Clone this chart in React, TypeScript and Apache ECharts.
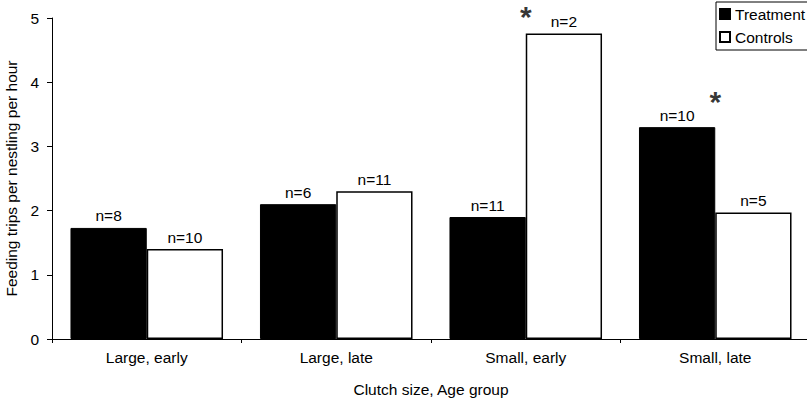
import React, { useEffect, useRef } from "react";
import * as echarts from "echarts";

const categories = ["Large, early", "Large, late", "Small, early", "Small, late"];
const treatmentValues = [1.73, 2.1, 1.9, 3.3];
const controlValues = [1.4, 2.3, 4.76, 1.97];
const treatmentN = ["n=8", "n=6", "n=11", "n=10"];
const controlN = ["n=10", "n=11", "n=2", "n=5"];
const asteriskValues = [null, null, 5.03, 3.7];
const yTicks = [0, 1, 2, 3, 4, 5];

const FONT = "Liberation Sans, Arial, sans-serif";
const FS = 15.5;

export default function App() {
  const ref = useRef<HTMLDivElement>(null);
  useEffect(() => {
    document.body.style.margin = "0";
    const chart = echarts.init(ref.current!, null, { renderer: "svg" });
    chart.setOption({
      animation: false,
      backgroundColor: "#fff",
      textStyle: { fontFamily: FONT, color: "#000" },
      grid: { left: 52, right: -3, top: 18, bottom: 60, containLabel: false, outerBoundsMode: "none" },
      legend: {
        orient: "vertical",
        left: 716,
        top: 2,
        itemWidth: 10,
        itemHeight: 10,
        itemGap: 7,
        padding: [4, 20, 5, 3],
        borderColor: "#000",
        borderWidth: 1,
        icon: "rect",
        textStyle: { fontFamily: FONT, fontSize: 15.5, color: "#000" },
        data: ["Treatment", "Controls"],
      },
      xAxis: {
        type: "category",
        data: categories,
        name: "Clutch size, Age group",
        nameLocation: "middle",
        nameGap: 42,
        nameTextStyle: { fontFamily: FONT, fontSize: FS, color: "#000" },
        axisLine: { lineStyle: { color: "#000", width: 1 } },
        axisTick: { show: true, alignWithLabel: false, length: 4, lineStyle: { color: "#000" } },
        axisLabel: { fontFamily: FONT, fontSize: FS, color: "#000", margin: 10 },
        splitLine: { show: false },
      },
      yAxis: {
        type: "value",
        min: yTicks[0],
        max: yTicks[yTicks.length - 1],
        interval: 1,
        name: "Feeding trips per nestling per hour",
        nameLocation: "middle",
        nameGap: 31,
        nameTextStyle: { fontFamily: FONT, fontSize: FS, color: "#000" },
        axisLine: { show: true, lineStyle: { color: "#000", width: 1 } },
        axisTick: { show: true, length: 5, lineStyle: { color: "#000" } },
        axisLabel: { fontFamily: FONT, fontSize: FS, color: "#000", margin: 13 },
        splitLine: { show: false },
      },
      series: [
        {
          name: "Treatment",
          type: "bar",
          data: treatmentValues.map((v, i) => ({ value: v, label: { formatter: treatmentN[i] } })),
          barGap: "0%",
          barCategoryGap: "19.5%",
          itemStyle: { color: "#000", borderColor: "#000", borderWidth: 1 },
          label: { show: true, position: "top", distance: 4, fontFamily: FONT, fontSize: FS, color: "#000" },
        },
        {
          name: "Controls",
          type: "bar",
          data: controlValues.map((v, i) => ({ value: v, label: { formatter: controlN[i] } })),
          barGap: "0%",
          barCategoryGap: "19.5%",
          itemStyle: { color: "#fff", borderColor: "#000", borderWidth: 1.5 },
          label: { show: true, position: "top", distance: 4, fontFamily: FONT, fontSize: FS, color: "#000" },
        },
        {
          name: "sig",
          type: "scatter",
          data: asteriskValues,
          symbolSize: 0,
          clip: false,
          silent: true,
          label: {
            show: true,
            position: "inside",
            formatter: "*",
            fontFamily: FONT,
            fontSize: 30,
            fontWeight: "bold",
            color: "#000",
          },
        },
      ],
    });
    return () => chart.dispose();
  }, []);
  return <div ref={ref} style={{ width: 807, height: 399 }} />;
}
